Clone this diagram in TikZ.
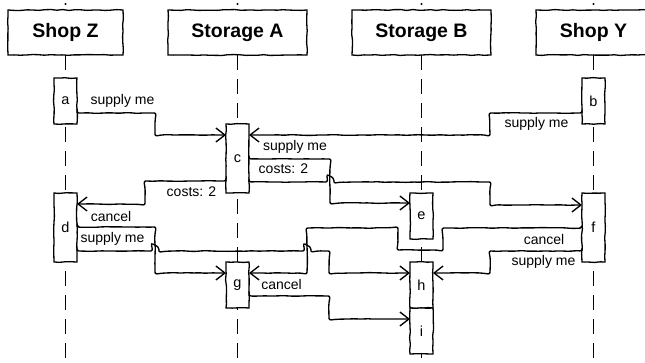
\documentclass[tikz,border=0pt]{standalone}
\usepackage{fontspec}
\setmainfont{Liberation Sans}
\usepackage{tikz}
\usetikzlibrary{positioning, arrows.meta, decorations.pathmorphing}

\tikzset{
    sketch/.style={decorate, decoration={random steps, segment length=6pt, amplitude=0.45pt}},
    head/.style={draw, sketch, line width=1.3pt, minimum width=115pt, minimum height=45pt,
        inner sep=0pt, outer sep=0pt, font=\fontsize{19.5}{22}\selectfont\bfseries},
    wide/.style={minimum width=139pt},
    act/.style={draw, sketch, fill=white, line width=1.3pt, minimum width=23pt, minimum height=46pt,
        inner sep=0pt, outer sep=0pt, font=\fontsize{14.5}{16}\selectfont},
    tall/.style={minimum height=69pt},
    life/.style={line width=1.2pt, dash pattern=on 15pt off 9pt},
    msg/.style={line width=1.35pt, rounded corners=2pt, -{Straight Barb[length=9pt,width=14pt]},
        decorate, decoration={random steps, segment length=6pt, amplitude=0.4pt, post length=8pt}},
    lbl/.style={font=\fontsize{14}{16}\selectfont, inner sep=0pt},
}
\newcommand{\hopover}[2]{-- (#1-3.5,#2) .. controls (#1-3.5,#2-5) and (#1+3.5,#2-5) .. (#1+3.5,#2)}
\pgfmathsetseed{7}

\begin{document}
\begin{tikzpicture}[x=1pt, y=-1pt]
    \path[use as bounding box, clip] (0,0) rectangle (645,363);

    \node[head] (sz) at (65.5,32.5) {Shop Z};
    \node[head, wide, right=45pt of sz] (sa) {Storage A};
    \node[head, wide, right=45pt of sa] (sb) {Storage B};
    \node[head, right=45pt of sb] (sy) {Shop Y};

    \fill (sz.north) ++(0,-6) circle (1.2pt);
    \fill (sa.north) ++(0,-6) circle (1.2pt);
    \fill (sb.north) ++(0,-6) circle (1.2pt);
    \fill (sy.north) ++(0,-6) circle (1.2pt);

    \draw[life] (sz.south) -- (sz.south |- 0,363);
    \draw[life] (sa.south) -- (sa.south |- 0,363);
    \draw[life] (sb.south) -- (sb.south |- 0,363);
    \draw[life] (sy.south) -- (sy.south |- 0,363);

    \node[act, below=23pt of sz] (a) {a};
    \node[act, below=23pt of sy] (b) {b};
    \node[act, tall, below=69pt of sa] (c) {c};
    \node[act, tall, below=69pt of a] (d) {d};
    \node[act, below=138pt of sb] (e) {e};
    \node[act, tall, below=69pt of b] (f) {f};
    \node[act, below=69pt of c] (g) {g};
    \node[act, below=23pt of e] (h) {h};
    \node[act, below=0pt of h] (i) {i};

    \draw[msg] (a.east |- 0,113) -- (155,113) |- (c.west |- 0,135);
    \draw[msg] (b.west |- 0,113) -- (490,113) |- (c.east |- 0,135);
    \draw[msg] (c.east |- 0,159) -- (330,159) |- (e.west |- 0,203);
    \draw[msg] (c.east |- 0,182) \hopover{330}{182} -- (490,182) |- (f.west |- 0,205);
    \draw[msg] (c.west |- 0,181) -- (145,181) |- (d.east |- 0,204);
    \draw[msg] (d.east |- 0,227) -- (155,227) |- (g.west |- 0,273);
    \draw[msg] (d.east |- 0,251) \hopover{155}{251} \hopover{307}{251} -- (329,251) |- (h.west |- 0,273);
    \draw[msg] (f.west |- 0,228) -- (443,228) -- (443,250) -- (398,250) -- (398,228) -- (307,228) |- (g.east |- 0,273);
    \draw[msg] (f.west |- 0,251) -- (490,251) |- (h.east |- 0,273);
    \draw[msg] (g.east |- 0,296) -- (329,296) |- (i.west |- 0,319);

    \node[lbl] (t1) at (122.5,101) {supply me};
    \node[lbl] (t2) at (536.5,123.5) {supply me};
    \node[lbl] (t3) at (295,147) {supply me};
    \node[lbl] (t4) at (283.5,169) {costs: 2};
    \node[lbl] (t5) at (191.5,192) {costs: 2};
    \node[lbl] (t6) at (111,216) {cancel};
    \node[lbl] (t7) at (112.5,239) {supply me};
    \node[lbl] (t8) at (544,239) {cancel};
    \node[lbl] (t9) at (543.5,262) {supply me};
    \node[lbl] (t10) at (281.5,284) {cancel};
\end{tikzpicture}
\end{document}
